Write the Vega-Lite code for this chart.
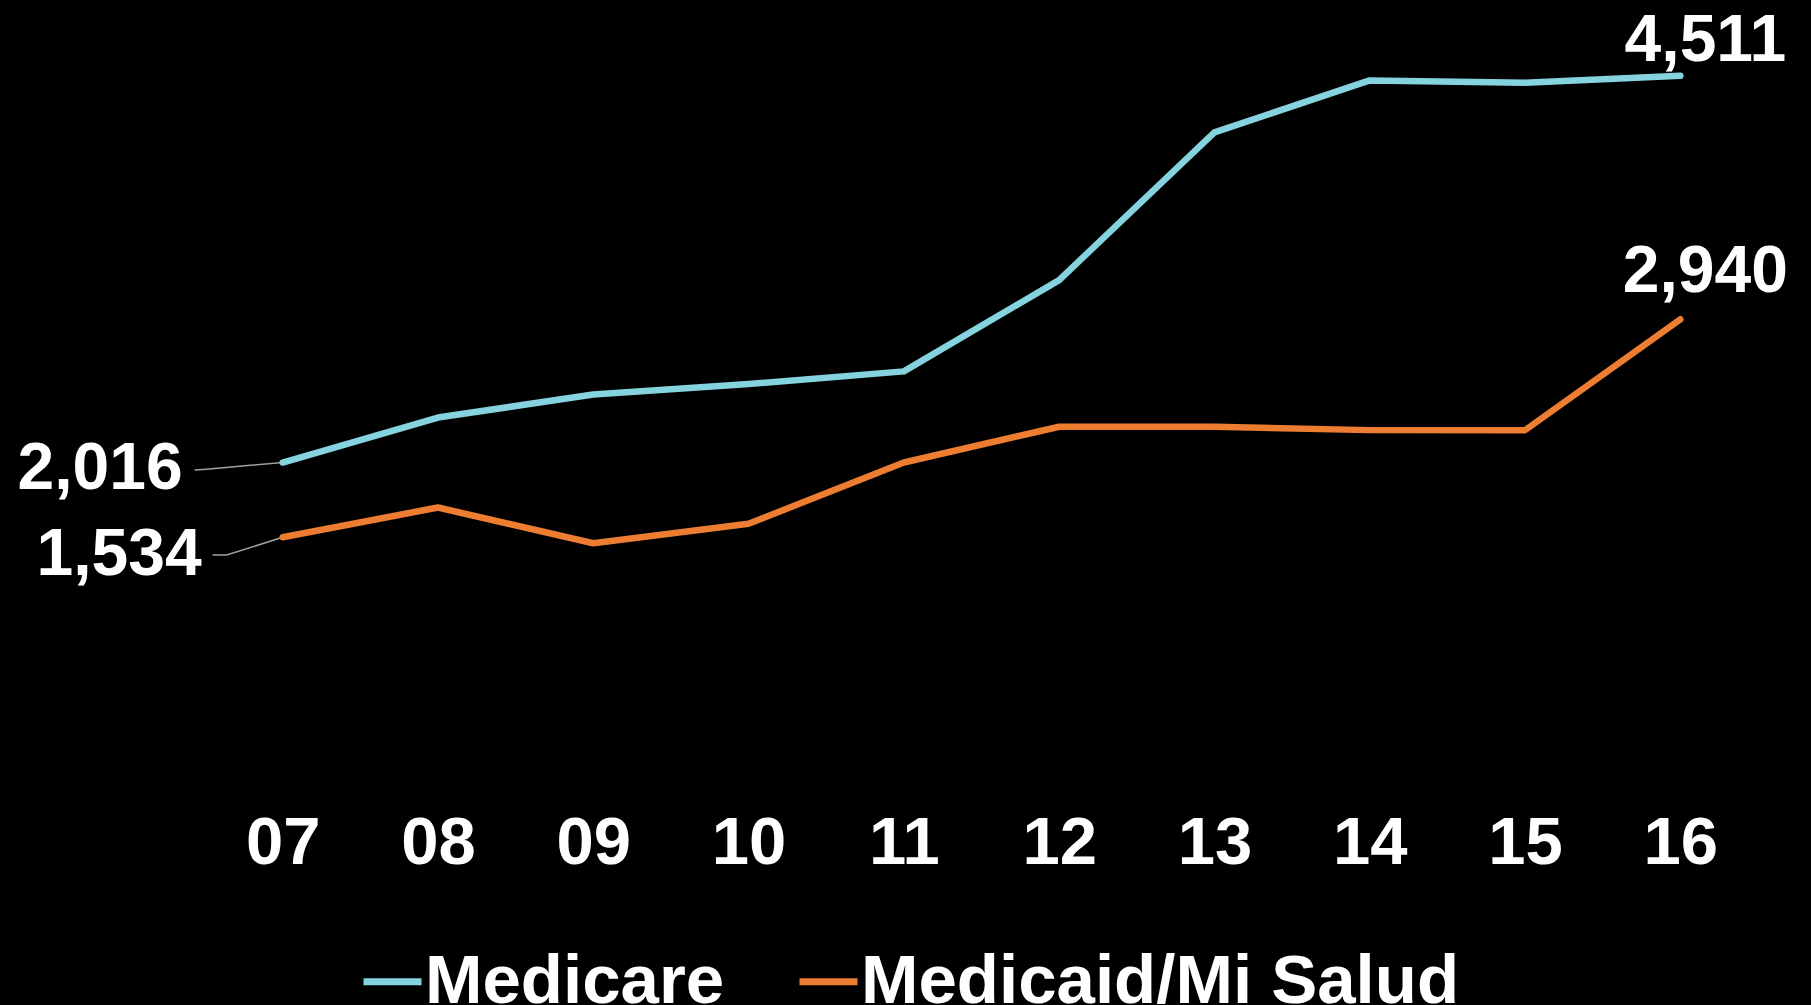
{
  "$schema": "https://vega.github.io/schema/vega-lite/v6.json",
  "width": 1553,
  "height": 775,
  "autosize": {"type": "none"},
  "padding": {"left": 205, "top": 0, "right": 53, "bottom": 230},
  "background": "black",
  "config": {
    "view": {"stroke": null},
    "font": "Liberation Sans",
    "axisX": {
      "labelFontSize": 67,
      "labelFontWeight": "bold",
      "labelColor": "white",
      "labelFont": "Liberation Sans",
      "ticks": false,
      "domain": false,
      "grid": false,
      "labelPadding": 35,
      "title": null
    }
  },
  "datasets": {
    "series": [
      {"series": "Medicare", "year": 7, "value": 2016},
      {"series": "Medicare", "year": 8, "value": 2306},
      {"series": "Medicare", "year": 9, "value": 2455},
      {"series": "Medicare", "year": 10, "value": 2522},
      {"series": "Medicare", "year": 11, "value": 2604},
      {"series": "Medicare", "year": 12, "value": 3193},
      {"series": "Medicare", "year": 13, "value": 4146},
      {"series": "Medicare", "year": 14, "value": 4481},
      {"series": "Medicare", "year": 15, "value": 4466},
      {"series": "Medicare", "year": 16, "value": 4511},
      {"series": "Medicaid/Mi Salud", "year": 7, "value": 1534},
      {"series": "Medicaid/Mi Salud", "year": 8, "value": 1726},
      {"series": "Medicaid/Mi Salud", "year": 9, "value": 1495},
      {"series": "Medicaid/Mi Salud", "year": 10, "value": 1621},
      {"series": "Medicaid/Mi Salud", "year": 11, "value": 2016},
      {"series": "Medicaid/Mi Salud", "year": 12, "value": 2247},
      {"series": "Medicaid/Mi Salud", "year": 13, "value": 2247},
      {"series": "Medicaid/Mi Salud", "year": 14, "value": 2225},
      {"series": "Medicaid/Mi Salud", "year": 15, "value": 2225},
      {"series": "Medicaid/Mi Salud", "year": 16, "value": 2940}
    ],
    "leaders": [
      {"series": "Medicare", "order": 1, "year": 7, "value": 2016},
      {"series": "Medicare", "order": 2, "year": 6.511, "value": 1973},
      {"series": "Medicare", "order": 3, "year": 6.433, "value": 1967},
      {"series": "Medicaid/Mi Salud", "order": 1, "year": 7, "value": 1534},
      {"series": "Medicaid/Mi Salud", "order": 2, "year": 6.639, "value": 1419},
      {"series": "Medicaid/Mi Salud", "order": 3, "year": 6.549, "value": 1419}
    ]
  },
  "layer": [
    {
      "data": {"name": "leaders"},
      "mark": {"type": "line", "color": "#a0a0a0", "strokeWidth": 1.5},
      "encoding": {
        "x": {
          "field": "year", "type": "quantitative",
          "scale": {"domain": [6.5, 16.5], "nice": false, "zero": false},
          "axis": {"values": [7, 8, 9, 10, 11, 12, 13, 14, 15, 16], "labelExpr": "datum.value < 10 ? '0' + datum.value : '' + datum.value"}
        },
        "y": {"field": "value", "type": "quantitative", "scale": {"domain": [0, 5000], "nice": false}, "axis": null},
        "detail": {"field": "series"},
        "order": {"field": "order"}
      }
    },
    {
      "data": {"name": "series"},
      "mark": {"type": "line", "strokeWidth": 6.5, "strokeCap": "round", "strokeJoin": "round"},
      "encoding": {
        "x": {
          "field": "year", "type": "quantitative",
          "scale": {"domain": [6.5, 16.5], "nice": false, "zero": false},
          "axis": {"values": [7, 8, 9, 10, 11, 12, 13, 14, 15, 16], "labelExpr": "datum.value < 10 ? '0' + datum.value : '' + datum.value"}
        },
        "y": {"field": "value", "type": "quantitative", "scale": {"domain": [0, 5000], "nice": false}, "axis": null},
        "color": {
          "field": "series",
          "type": "nominal",
          "scale": {"domain": ["Medicare", "Medicaid/Mi Salud"], "range": ["#86d3e0", "#ed7d31"]},
          "legend": {
            "orient": "none",
            "legendX": 153,
            "legendY": 947,
            "direction": "horizontal",
            "title": null,
            "padding": 0,
            "symbolType": "stroke",
            "symbolSize": 3364,
            "symbolStrokeWidth": 7,
            "labelFontSize": 69,
            "labelFontWeight": "bold",
            "labelColor": "white",
            "labelFont": "Liberation Sans",
            "labelLimit": 1000,
            "labelOffset": -2,
            "columnPadding": 60
          }
        }
      }
    },
    {
      "data": {"name": "series"},
      "transform": [{"filter": "datum.year == 16 && datum.series == 'Medicare'"}],
      "mark": {"type": "text", "align": "center", "baseline": "alphabetic", "dx": 25, "dy": -15, "fontSize": 66, "fontWeight": "bold", "color": "white"},
      "encoding": {
        "x": {"field": "year", "type": "quantitative"},
        "y": {"field": "value", "type": "quantitative"},
        "text": {"field": "value", "type": "quantitative", "format": ","}
      }
    },
    {
      "data": {"name": "series"},
      "transform": [{"filter": "datum.year == 16 && datum.series == 'Medicaid/Mi Salud'"}],
      "mark": {"type": "text", "align": "center", "baseline": "alphabetic", "dx": 25, "dy": -27, "fontSize": 66, "fontWeight": "bold", "color": "white"},
      "encoding": {
        "x": {"field": "year", "type": "quantitative"},
        "y": {"field": "value", "type": "quantitative"},
        "text": {"field": "value", "type": "quantitative", "format": ","}
      }
    },
    {
      "data": {"name": "series"},
      "transform": [{"filter": "datum.year == 7 && datum.series == 'Medicare'"}],
      "mark": {"type": "text", "align": "right", "baseline": "alphabetic", "dx": -100, "dy": 26, "fontSize": 66, "fontWeight": "bold", "color": "white"},
      "encoding": {
        "x": {"field": "year", "type": "quantitative"},
        "y": {"field": "value", "type": "quantitative"},
        "text": {"field": "value", "type": "quantitative", "format": ","}
      }
    },
    {
      "data": {"name": "series"},
      "transform": [{"filter": "datum.year == 7 && datum.series == 'Medicaid/Mi Salud'"}],
      "mark": {"type": "text", "align": "right", "baseline": "alphabetic", "dx": -81, "dy": 38, "fontSize": 66, "fontWeight": "bold", "color": "white"},
      "encoding": {
        "x": {"field": "year", "type": "quantitative"},
        "y": {"field": "value", "type": "quantitative"},
        "text": {"field": "value", "type": "quantitative", "format": ","}
      }
    }
  ]
}
